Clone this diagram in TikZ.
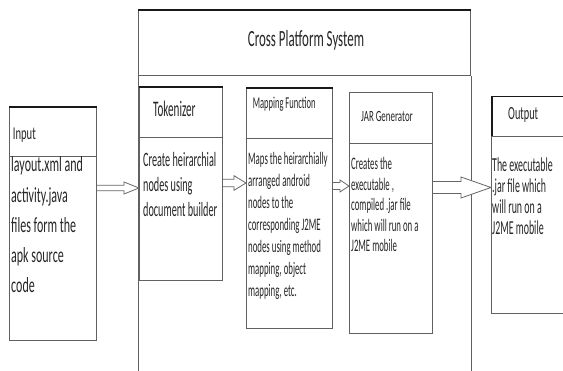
\documentclass[tikz,border=0pt]{standalone}
\usepackage{graphicx}
\usepackage{fontspec}
\setmainfont{Carlito}
\usetikzlibrary{calc}
\newcommand{\vtxt}[4]{\scalebox{1}[#1]{\fontsize{#2}{#3}\selectfont #4}}
\newcommand{\vpar}[4]{\scalebox{1}[#1]{\parbox[t]{200pt}{\raggedright\fontsize{#2}{#3}\selectfont #4}}}
\newcommand{\blockarrow}[6]{%
  \path (#1 |- 0,#3) coordinate (bs) (#2 |- 0,#3) coordinate (bt);
  \filldraw[arrowst] ($(bs)+(0,-#4)$) -- ($(bt)+(-#6,-#4)$) -- ($(bt)+(-#6,-#5)$) -- (bt)
     -- ($(bt)+(-#6,#5)$) -- ($(bt)+(-#6,#4)$) -- ($(bs)+(0,#4)$);
}
\tikzset{
  boxst/.style={draw=black!62, line width=1pt, rectangle, inner sep=0pt, anchor=north west},
  topline/.style={draw=black!90, line width=1.6pt},
  txt/.style={inner sep=0pt, text=black!85},
  arrowst/.style={draw=black!60, line width=0.8pt, fill=white, line join=miter},
}
\begin{document}
\begin{tikzpicture}[x=1pt, y=-1pt]
\clip (0,0) rectangle (563,371);
\fill[white] (0,0) rectangle (563,371);

% Cross Platform System frame
\node[boxst, minimum width=332pt, minimum height=65pt] (cps) at (138,10) {};
\draw[boxst] (cps.south west) -- (cps.south west |- 0,375);
\draw[boxst] (cps.south east) -- (cps.south east |- 0,375);
\draw[topline] (cps.north west) -- (cps.north east);
\node[txt, anchor=base] (cpst) at (306,46.7) {\vtxt{1.8}{12.9}{15}{Cross Platform System}};

% Input
\node[boxst, minimum width=87pt, minimum height=49pt] (inhead) at (9,107) {};
\node[boxst, minimum width=87pt, minimum height=184pt] (inbody) at (9,156) {};
\draw[topline] (inhead.north west) -- (inhead.north east);
\node[txt, anchor=base west] (inht) at (12.7,140) {\vtxt{1.7}{10.6}{12}{Input}};
\node[txt, anchor=base west] (inbt) at (11,172) {\vpar{1.8}{12}{16.67}{layout.xml and\\activity.java\\files form the\\apk source\\code}};

% Tokenizer
\node[boxst, minimum width=83pt, minimum height=50pt] (tokhead) at (139,87) {};
\node[boxst, minimum width=83pt, minimum height=143pt] (tokbody) at (139,137) {};
\draw[topline] (tokhead.north west) -- (tokhead.north east);
\node[txt, anchor=base west] (tokht) at (153,117) {\vtxt{2}{11.1}{13}{Tokenizer}};
\node[txt, anchor=base west] (tokbt) at (143,166.7) {\vpar{2}{10.2}{12.5}{Create heirarchial\\nodes using\\document builder}};

% Mapping Function
\node[boxst, minimum width=86pt, minimum height=50pt] (maphead) at (246,88) {};
\node[boxst, minimum width=86pt, minimum height=190pt] (mapbody) at (246,138) {};
\draw[topline] (maphead.north west) -- (maphead.north east);
\node[txt, anchor=base west] (mapht) at (252.7,109) {\vtxt{1.95}{8.5}{10}{Mapping Function}};
\node[txt, anchor=base west] (mapbt) at (248,165) {\vpar{2}{8.8}{11}{Maps the heirarchially\\arranged android\\nodes to the\\corresponding J2ME\\nodes using method\\mapping, object\\mapping, etc.}};

% JAR Generator
\node[boxst, minimum width=83pt, minimum height=51pt] (jarhead) at (349,92) {};
\node[boxst, minimum width=83pt, minimum height=190pt] (jarbody) at (349,143) {};
\node[txt, anchor=base west] (jarht) at (361,122) {\vtxt{1.75}{8.9}{10}{JAR Generator}};
\node[txt, anchor=base west] (jarbt) at (351,170) {\vpar{2}{8.8}{10.25}{Creates the\\executable ,\\compiled .jar file\\which will run on a\\J2ME mobile}};

% Output
\node[boxst, minimum width=80pt, minimum height=40pt, draw=black!90, line width=1.5pt] (outhead) at (491,96) {};
\node[boxst, minimum width=80pt, minimum height=177pt] (outbody) at (491,136) {};
\node[txt, anchor=base west] (outht) at (508,120) {\vtxt{1.8}{10.3}{12}{Output}};
\node[txt, anchor=base west] (outbt) at (492,172) {\vpar{2}{9.9}{10.5}{The executable\\.jar file which\\will run on a\\J2ME mobile}};

% Arrows
\blockarrow{inbody.east}{tokbody.west}{188}{2.8}{6}{15}
\blockarrow{tokbody.east}{mapbody.west}{183}{3.7}{7.3}{12}
\blockarrow{mapbody.east}{jarbody.west}{186}{3.5}{6}{9}
\blockarrow{jarbody.east}{outbody.west}{187.5}{6}{10.5}{30}
\end{tikzpicture}
\end{document}
